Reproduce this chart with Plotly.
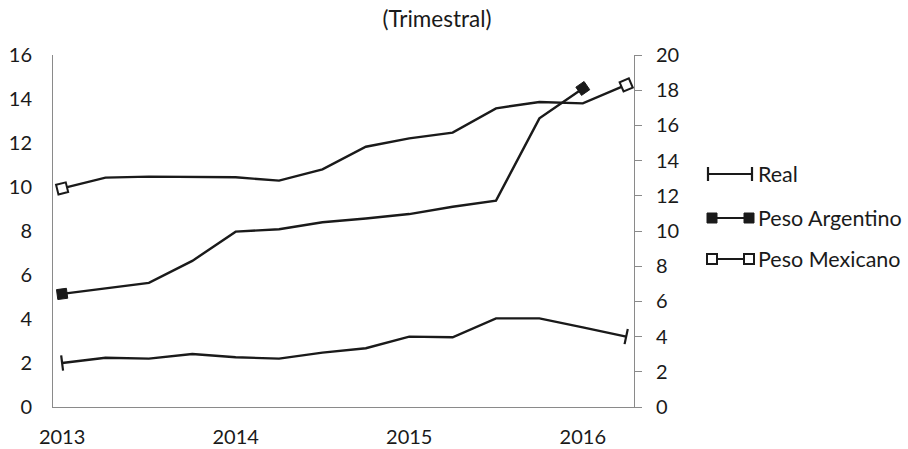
import math
import plotly.graph_objects as go

# ---------------- data ----------------
quarters = ["2013 T1", "2013 T2", "2013 T3", "2013 T4",
            "2014 T1", "2014 T2", "2014 T3", "2014 T4",
            "2015 T1", "2015 T2", "2015 T3", "2015 T4",
            "2016 T1", "2016 T2"]
year_ticks = ["2013 T1", "2014 T1", "2015 T1", "2016 T1"]
year_labels = ["2013", "2014", "2015", "2016"]

real = [2.00, 2.24, 2.20, 2.41, 2.26, 2.20, 2.47, 2.67, 3.20, 3.17, 4.03, 4.03, 3.62, 3.20]
peso_argentino = [5.14, 5.40, 5.64, 6.64, 7.97, 8.08, 8.40, 8.57, 8.77, 9.10, 9.38, 13.12, 14.48, None]
peso_mexicano = [12.42, 13.03, 13.09, 13.09, 13.05, 12.86, 13.50, 14.79, 15.26, 15.59, 16.97, 17.33, 17.25, 18.30]

series_names = ["Real", "Peso Argentino", "Peso Mexicano"]
left_ticks = list(range(0, 17, 2))
right_ticks = list(range(0, 21, 2))

# ---------------- style ----------------
FONT = "Lato"
INK = "#1a1a1a"
AXIS = "#8a8a8a"
W, H = 908, 449
ML, MR, MT, MB = 53, 4, 55, 42
PLOT_W = W - ML - MR
PLOT_H = H - MT - MB
MAIN_RIGHT_PX = 634
main_dom = (MAIN_RIGHT_PX - ML) / PLOT_W
X_RANGE = [-0.21, 13.18]
Y_RANGE = [0, 16]
Y2_RANGE = [0, 20]

styles = {
    "Real": dict(symbol="line-ew", color=INK, lw=2.2, size=11, perp=True, leg=(708, 752)),
    "Peso Argentino": dict(symbol="square", color=INK, lw=1, size=10, perp=False, leg=(712, 749)),
    "Peso Mexicano": dict(symbol="square", color="white", lw=2, size=10, perp=False, leg=(712, 749)),
}

px_per_cat = (MAIN_RIGHT_PX - ML) / (X_RANGE[1] - X_RANGE[0])


def end_points(vals, yr, perp):
    """Indices and orientation of the two line ends (marker follows the line direction)."""
    idx = [i for i, v in enumerate(vals) if v is not None]
    py = PLOT_H / (yr[1] - yr[0])

    def seg_angle(i, j):
        dx = (j - i) * px_per_cat
        dy = (vals[j] - vals[i]) * py
        return math.degrees(math.atan2(dy, dx))

    ends = [idx[0], idx[-1]]
    ths = [seg_angle(idx[0], idx[1]), seg_angle(idx[-2], idx[-1])]
    angles = [(90 - t) if perp else -t for t in ths]
    return ends, angles


fig = go.Figure()
data_map = {"Real": (real, "y", Y_RANGE), "Peso Argentino": (peso_argentino, "y", Y_RANGE),
            "Peso Mexicano": (peso_mexicano, "y2", Y2_RANGE)}

for name in series_names:
    vals, ax, yr = data_map[name]
    st = styles[name]
    fig.add_trace(go.Scatter(
        x=quarters, y=vals, name=name, yaxis=ax, mode="lines",
        line=dict(color=INK, width=2.4),
        showlegend=False, hoverinfo="x+y+name", cliponaxis=False,
    ))
    ends, angles = end_points(vals, yr, st["perp"])
    fig.add_trace(go.Scatter(
        x=[quarters[i] for i in ends], y=[vals[i] for i in ends], yaxis=ax,
        mode="markers", name=name,
        marker=dict(symbol=st["symbol"], size=st["size"], angle=angles,
                    color=st["color"], opacity=1,
                    line=dict(color=INK, width=st["lw"])),
        showlegend=False, hoverinfo="skip", cliponaxis=False,
    ))

# ---------------- custom legend (Excel style: marker at both line ends) ----
LEG_TXT = 756
LEG_ROWS = [174, 218, 259]
for k, name in enumerate(series_names):
    st = styles[name]
    yy = LEG_ROWS[k]
    sym = "line-ns" if st["symbol"] == "line-ew" else st["symbol"]
    fig.add_trace(go.Scatter(
        x=list(st["leg"]), y=[yy, yy], xaxis="x3", yaxis="y3",
        mode="lines+markers", line=dict(color=INK, width=2),
        marker=dict(symbol=sym, size=st["size"] if name != "Real" else 10,
                    color=st["color"], line=dict(color=INK, width=st["lw"])),
        showlegend=False, hoverinfo="skip", cliponaxis=False,
    ))
    fig.add_annotation(x=LEG_TXT, y=yy, xref="x3", yref="y3", text=name,
                       showarrow=False, xanchor="left", yanchor="middle",
                       font=dict(family=FONT, size=21.5, color=INK))

LEG_LEFT = 690
leg_dom0 = (LEG_LEFT - ML) / PLOT_W

fig.update_layout(
    width=W, height=H,
    margin=dict(l=ML, r=MR, t=MT, b=MB, autoexpand=False),
    paper_bgcolor="white", plot_bgcolor="white",
    font=dict(family=FONT, size=20, color=INK),
    title=dict(text="(Trimestral)", xref="container", yref="container",
               x=437 / W, y=1 - 19 / H, xanchor="center", yanchor="middle",
               font=dict(family=FONT, size=22.5, color=INK)),
    xaxis=dict(domain=[0, main_dom], type="category", categoryorder="array",
               categoryarray=quarters, range=X_RANGE, automargin=False,
               tickmode="array", tickvals=year_ticks, ticktext=year_labels,
               showgrid=False, zeroline=False, showline=True, linecolor=AXIS,
               linewidth=1, ticks="", ticklabelstandoff=12,
               tickfont=dict(family=FONT, size=20, color=INK)),
    yaxis=dict(range=Y_RANGE, tickvals=left_ticks, showgrid=False, zeroline=False,
               showline=True, linecolor=AXIS, linewidth=1, ticks="",
               ticklabelstandoff=16, automargin=False,
               tickfont=dict(family=FONT, size=20, color=INK)),
    yaxis2=dict(range=Y2_RANGE, tickvals=right_ticks, overlaying="y", side="right",
                anchor="x", showgrid=False, zeroline=False, showline=True,
                linecolor=AXIS, linewidth=1, ticks="outside", ticklen=7,
                tickcolor=AXIS, tickwidth=1, ticklabelstandoff=10, automargin=False,
                tickfont=dict(family=FONT, size=20, color=INK)),
    xaxis3=dict(domain=[leg_dom0, 1], range=[LEG_LEFT, W - MR], visible=False,
                fixedrange=True, automargin=False),
    yaxis3=dict(domain=[0, 1], range=[H - MB, MT], visible=False, anchor="x3",
                fixedrange=True, automargin=False),
)

fig.write_html(
    "out.html",
    config={"displayModeBar": False},
    post_script="document.body.style.margin='0';document.body.style.overflow='hidden';",
)
